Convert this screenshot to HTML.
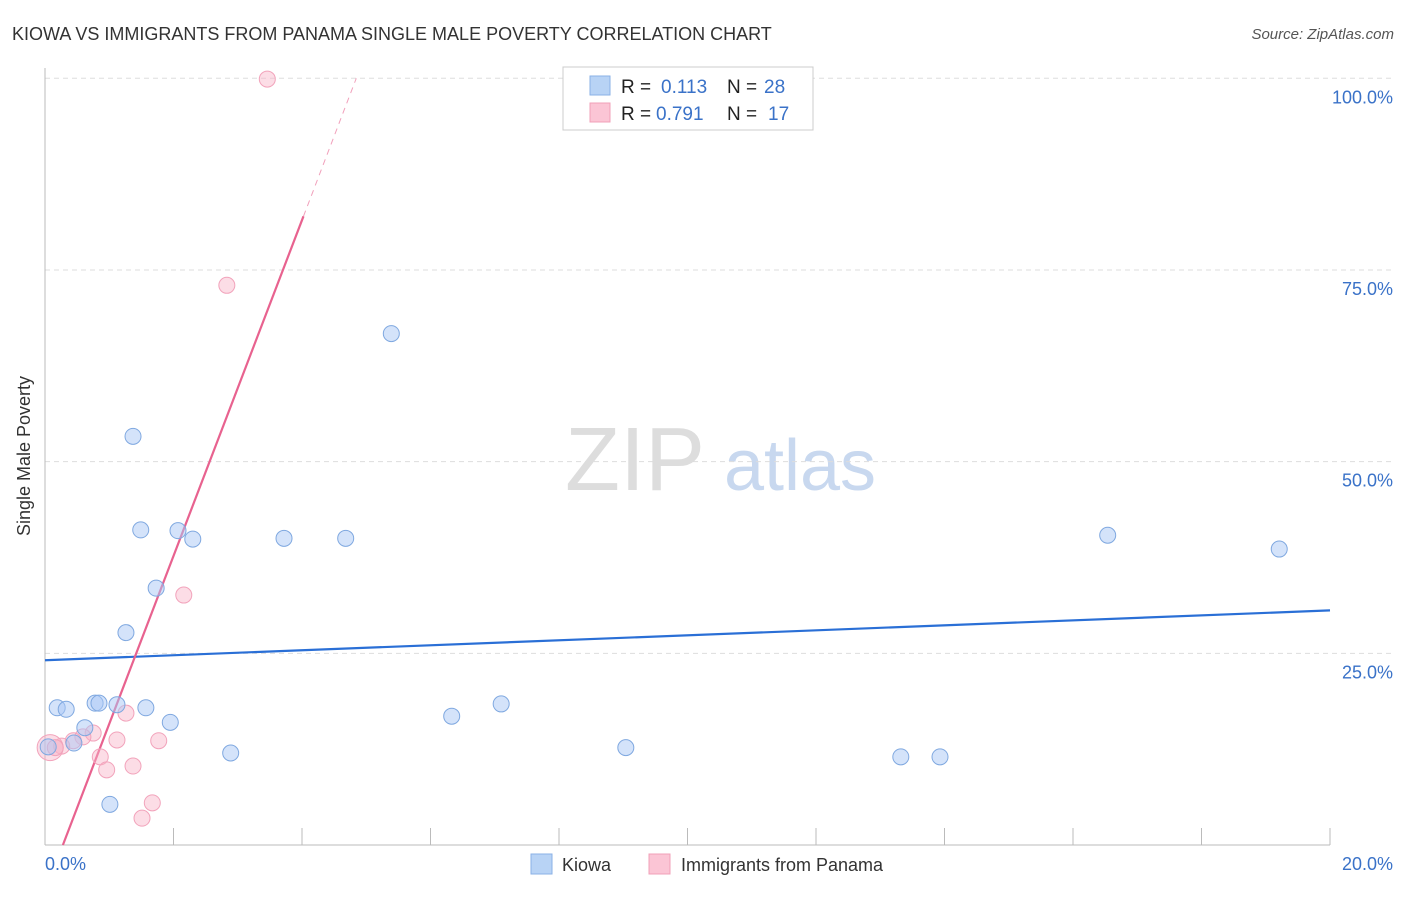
<!DOCTYPE html>
<html><head><meta charset="utf-8"><style>
body{margin:0;background:#fff;font-family:"Liberation Sans",sans-serif;}
svg text{font-family:"Liberation Sans",sans-serif;}
</style></head><body>
<svg id="chart" width="1406" height="892">
<text x="12" y="40" font-size="18" fill="#333">KIOWA VS IMMIGRANTS FROM PANAMA SINGLE MALE POVERTY CORRELATION CHART</text>
<text x="1394" y="39" font-size="15" fill="#555" text-anchor="end" font-style="italic">Source: ZipAtlas.com</text>
<text x="30" y="456" font-size="18" fill="#333" text-anchor="middle" transform="rotate(-90 30 456)">Single Male Poverty</text>
<g><text x="635" y="490" font-size="90" fill="#ddd" text-anchor="middle" font-family="Liberation Serif">ZIP</text><text x="800" y="490" font-size="72" fill="#c8d8ef" text-anchor="middle">atlas</text></g>
<g id="grid"></g><g id="axes"></g><g id="trend"></g><g id="pts"></g>
<g>
<rect x="563" y="67" width="250" height="63" fill="#fff" stroke="#ccc"/>
<rect x="590" y="76" width="20" height="19" fill="#b8d3f5" stroke="#8ab0e6"/>
<rect x="590" y="103" width="20" height="19" fill="#fbc5d5" stroke="#f0a0b8"/>
<text x="621" y="93" font-size="19" fill="#222">R =</text><text x="661" y="93" font-size="19" fill="#3a72c8">0.113</text>
<text x="727" y="93" font-size="19" fill="#222">N =</text><text x="764" y="93" font-size="19" fill="#3a72c8">28</text>
<text x="621" y="120" font-size="19" fill="#222">R =</text><text x="656" y="120" font-size="19" fill="#3a72c8">0.791</text>
<text x="727" y="120" font-size="19" fill="#222">N =</text><text x="768" y="120" font-size="19" fill="#3a72c8">17</text>
</g>
<g>
<rect x="531" y="854" width="21" height="20" fill="#b8d3f5" stroke="#8ab0e6"/><text x="562" y="871" font-size="18" fill="#333">Kiowa</text>
<rect x="649" y="854" width="21" height="20" fill="#fbc5d5" stroke="#f0a0b8"/><text x="681" y="871" font-size="18" fill="#333">Immigrants from Panama</text>
</g>
</svg>
<script>
const kiowaX=[1.37,1.49,2.07,2.30,3.72,4.68,5.39,1.73,1.26,0.19,0.33,0.78,0.84,1.12,1.57,1.95,0.62,0.45,0.05,2.89,1.01,6.33,7.10,9.04,13.32,13.93,16.54,19.21];
const kiowaY=[53.3,41.1,41.0,39.9,40.0,40.0,66.7,33.5,27.7,17.9,17.7,18.5,18.5,18.3,17.9,16.0,15.3,13.3,12.8,12.0,5.3,16.8,18.4,12.7,11.5,11.5,40.4,38.6];
const panamaX=[3.46,2.83,2.16,1.26,0.75,0.59,1.12,1.77,0.44,0.26,0.08,0.86,1.37,0.96,1.67,1.51,0.16];
const panamaY=[99.9,73.0,32.6,17.2,14.6,14.1,13.7,13.6,13.6,12.9,12.7,11.5,10.3,9.8,5.5,3.5,12.7];
const yTicks=[25,50,75,100];
const xTickLabels=["0.0%","20.0%"];
const kiowaTrend=[24.1,30.6];
const panamaTrend=[-6.1,21.9];
const X=v=>45+v*64.25, Y=v=>845-v*7.667;
const NS="http://www.w3.org/2000/svg";
function mk(p,t,a){const e=document.createElementNS(NS,t);for(const k in a)e.setAttribute(k,a[k]);p.appendChild(e);return e;}
const grid=document.getElementById('grid'),axes=document.getElementById('axes'),trend=document.getElementById('trend'),pts=document.getElementById('pts');
yTicks.forEach(t=>{
 const l=mk(grid,'line',{x1:45,x2:1394,y1:Y(t),y2:Y(t),stroke:'#ddd','stroke-dasharray':'5,4'});
 
 
 const tx=mk(grid,'text',{x:1393,y:Y(t)+25,'font-size':18,fill:'#3a72c8','text-anchor':'end'});tx.textContent=t.toFixed(1)+'%';
 
 
});
let a=mk(axes,'line',{x1:45,x2:45,y1:68,y2:845,stroke:'#bbb'});


a=mk(axes,'line',{x1:45,x2:1330,y1:845,y2:845,stroke:'#bbb'});


for(let i=1;i<=10;i++){const t=mk(axes,'line',{x1:X(i*2),x2:X(i*2),y1:828,y2:845,stroke:'#bbb'});
 
 }
let lt=mk(axes,'text',{x:45,y:870,'font-size':18,fill:'#3a72c8'});lt.textContent=xTickLabels[0];


lt=mk(axes,'text',{x:1393,y:870,'font-size':18,fill:'#3a72c8','text-anchor':'end'});lt.textContent=xTickLabels[1];


let tl=mk(trend,'line',{x1:X(0),y1:Y(kiowaTrend[0]),x2:X(20),y2:Y(kiowaTrend[1]),stroke:'#2a6fd6','stroke-width':2.2});


const pf=x=>panamaTrend[0]+panamaTrend[1]*x;
const x0=-panamaTrend[0]/panamaTrend[1], xs=(82-panamaTrend[0])/panamaTrend[1], xe=(100-panamaTrend[0])/panamaTrend[1];
tl=mk(trend,'line',{x1:X(x0),y1:Y(0),x2:X(xs),y2:Y(82),stroke:'#e8628f','stroke-width':2.2});


tl=mk(trend,'line',{x1:X(xs),y1:Y(82),x2:X(xe),y2:Y(100),stroke:'#e8628f','stroke-width':1,'stroke-dasharray':'6,5',opacity:0.6});


panamaX.forEach((x,i)=>{const c=mk(pts,'circle',{cx:X(x),cy:Y(panamaY[i]),r:i==10?13:8,fill:'rgba(248,180,200,0.45)',stroke:'#f2a3bb','stroke-width':1});
 
 });
kiowaX.forEach((x,i)=>{const c=mk(pts,'circle',{cx:X(x),cy:Y(kiowaY[i]),r:8,fill:'rgba(170,200,245,0.5)',stroke:'#7fa8e0','stroke-width':1});
 
 });
</script>
</body></html>
